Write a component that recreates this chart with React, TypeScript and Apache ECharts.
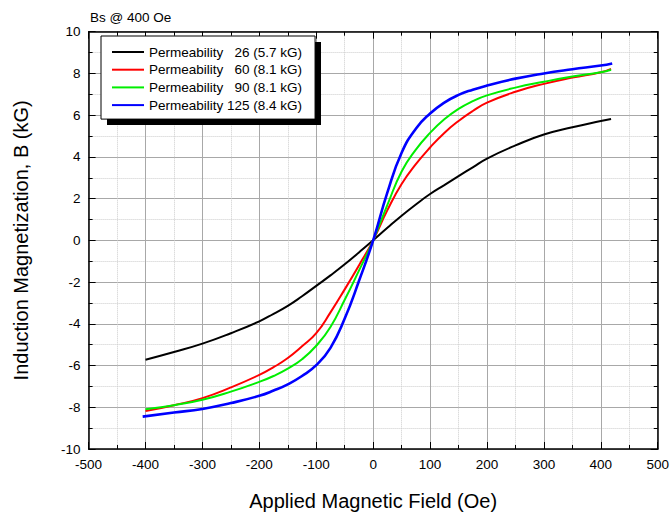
import React, { useEffect, useRef } from 'react';
import * as echarts from 'echarts';

const FONT = "'Liberation Sans', Arial, Helvetica, sans-serif";

const titleText = 'Bs @ 400 Oe';
const xName = 'Applied Magnetic Field (Oe)';
const yName = 'Induction Magnetization, B (kG)';

const seriesNames = [
  'Permeability\u00a0\u00a0\u00a026 (5.7 kG)',
  'Permeability\u00a0\u00a0\u00a060 (8.1 kG)',
  'Permeability\u00a0\u00a0\u00a090 (8.1 kG)',
  'Permeability 125 (8.4 kG)',
];
const seriesColors = ['#000000', '#ff0000', '#00ee00', '#0000ff'];
const seriesWidths = [2, 2, 2, 2.6];

const fieldCommon = [-400, -350, -300, -250, -200, -175, -150, -125, -100, -75, -50, -25, 0, 25, 50, 75, 100, 125, 150, 175, 200, 250, 300, 350, 400, 418];

const fieldBlack = fieldCommon;
const bBlack = [-5.72, -5.35, -4.95, -4.45, -3.88, -3.52, -3.14, -2.68, -2.18, -1.68, -1.15, -0.58, 0, 0.6, 1.18, 1.72, 2.22, 2.65, 3.08, 3.5, 3.92, 4.55, 5.07, 5.42, 5.72, 5.82];

const fieldRed = fieldCommon;
const bRed = [-8.18, -7.9, -7.56, -7.05, -6.45, -6.08, -5.64, -5.08, -4.45, -3.45, -2.35, -1.2, 0, 1.45, 2.7, 3.65, 4.45, 5.15, 5.72, 6.2, 6.6, 7.12, 7.5, 7.8, 8.06, 8.22];

const fieldGreen = fieldCommon;
const bGreen = [-8.1, -7.9, -7.64, -7.25, -6.78, -6.5, -6.15, -5.7, -5.05, -4.15, -2.85, -1.45, 0, 1.7, 3.3, 4.35, 5.15, 5.8, 6.3, 6.67, 6.95, 7.32, 7.6, 7.85, 8.06, 8.18];

const fieldBlue = [-405, -350, -300, -250, -200, -175, -150, -125, -100, -75, -50, -25, 0, 25, 50, 75, 100, 125, 150, 175, 200, 250, 300, 350, 400, 420];
const bBlue = [-8.45, -8.25, -8.08, -7.8, -7.45, -7.2, -6.9, -6.5, -5.98, -5.15, -3.75, -1.95, 0, 2.3, 4.2, 5.35, 6.08, 6.6, 6.97, 7.22, 7.42, 7.75, 8.0, 8.2, 8.38, 8.48];

const fields = [fieldBlack, fieldRed, fieldGreen, fieldBlue];
const values = [bBlack, bRed, bGreen, bBlue];

const X_MIN = -500, X_MAX = 500, X_INT = 100;
const Y_MIN = -10, Y_MAX = 10, Y_INT = 2;

export default function App() {
  const ref = useRef<HTMLDivElement>(null);
  useEffect(() => {
    if (!ref.current) return;
    const chart = echarts.init(ref.current, undefined, { renderer: 'svg' });
    const axisLine = { show: true, onZero: false, lineStyle: { color: '#000', width: 1.5 } };
    const tick = { show: true, inside: true, length: 7, lineStyle: { color: '#000', width: 1 } };
    const minorTick = { show: true, splitNumber: 2, length: 4, lineStyle: { color: '#000', width: 1 } };
    const label = { fontSize: 13.5, color: '#000', fontFamily: FONT, margin: 8 };
    const split = { show: true, lineStyle: { color: '#a8a8a8', width: 1 } };
    const minorSplit = { show: true, lineStyle: { color: '#cccccc', width: 1, type: 'dotted' } };

    const option: any = {
      animation: false,
      backgroundColor: '#fff',
      textStyle: { fontFamily: FONT },
      title: {
        text: titleText,
        left: 90,
        top: 10,
        padding: 0,
        textStyle: { fontSize: 13.5, fontWeight: 'normal', color: '#000', fontFamily: FONT },
      },
      grid: { left: 88.6, right: 9.6, top: 31.7, bottom: 60.7, containLabel: false },
      legend: {
        orient: 'vertical',
        left: 101,
        top: 36,
        padding: [9, 13, 7, 11],
        itemGap: 3.7,
        itemWidth: 32,
        itemHeight: 2,
        icon: 'rect',
        backgroundColor: '#fff',
        borderColor: '#000',
        borderWidth: 1,
        selectedMode: false,
        textStyle: { fontSize: 13.5, color: '#000', fontFamily: FONT, lineHeight: 14 },
        data: seriesNames,
      },
      graphic: [
        {
          type: 'rect',
          z: 3,
          shape: { x: 107, y: 42, width: 214, height: 83 },
          style: { fill: '#000' },
        },
      ],
      xAxis: [
        {
          type: 'value', min: X_MIN, max: X_MAX, interval: X_INT, position: 'bottom',
          axisLine, axisTick: tick, minorTick, axisLabel: label,
          splitLine: split, minorSplitLine: minorSplit,
          name: xName, nameLocation: 'middle', nameGap: 42,
          nameTextStyle: { fontSize: 20, color: '#000', fontFamily: FONT },
        },
        {
          type: 'value', min: X_MIN, max: X_MAX, interval: X_INT, position: 'top',
          axisLine, axisTick: tick, minorTick, axisLabel: { show: false },
          splitLine: { show: false }, minorSplitLine: { show: false },
        },
      ],
      yAxis: [
        {
          type: 'value', min: Y_MIN, max: Y_MAX, interval: Y_INT, position: 'left',
          axisLine, axisTick: tick, minorTick, axisLabel: label,
          splitLine: split, minorSplitLine: minorSplit,
          name: yName, nameLocation: 'middle', nameGap: 58,
          nameTextStyle: { fontSize: 20, color: '#000', fontFamily: FONT },
        },
        {
          type: 'value', min: Y_MIN, max: Y_MAX, interval: Y_INT, position: 'right',
          axisLine, axisTick: tick, minorTick, axisLabel: { show: false },
          splitLine: { show: false }, minorSplitLine: { show: false },
        },
      ],
      series: seriesNames.map((name, i) => ({
        name,
        type: 'line',
        xAxisIndex: 0,
        yAxisIndex: 0,
        data: fields[i].map((f, j) => [f, values[i][j]]),
        showSymbol: false,
        symbol: 'none',
        smooth: 0.5,
        color: seriesColors[i],
        lineStyle: { color: seriesColors[i], width: seriesWidths[i] },
        z: 2 + i * 0.01,
      })),
    };
    chart.setOption(option);
    return () => chart.dispose();
  }, []);
  return <div ref={ref} style={{ position: 'fixed', left: 0, top: 0, width: 672, height: 516 }} />;
}
